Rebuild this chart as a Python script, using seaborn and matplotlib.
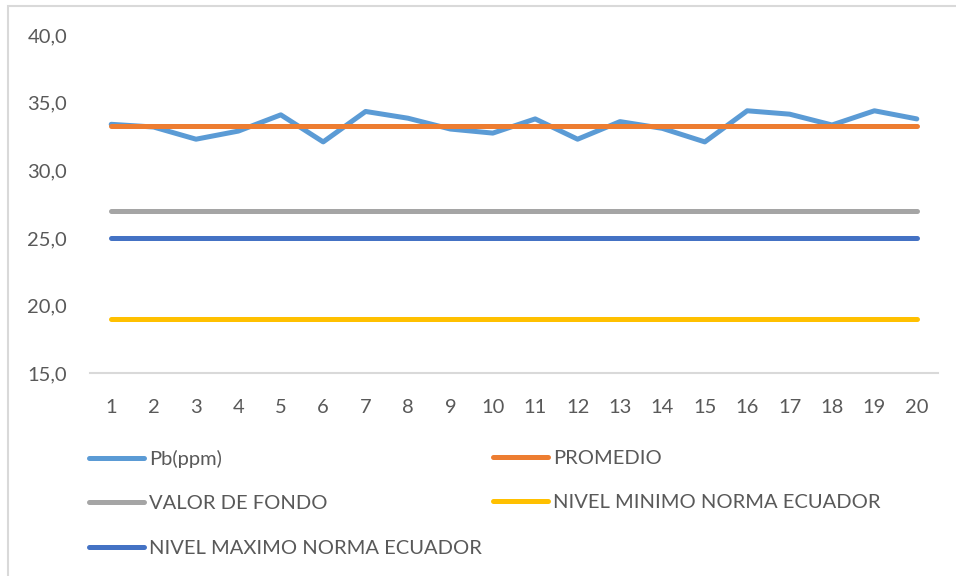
import numpy as np
import pandas as pd
import matplotlib
matplotlib.use("Agg")
import matplotlib.pyplot as plt
from matplotlib.patches import Rectangle
from matplotlib.lines import Line2D
from matplotlib.ticker import FuncFormatter
import seaborn as sns

# ---- data ----
muestras = list(range(1, 21))
pb_ppm = [33.4, 33.2, 32.3, 32.9, 34.1, 32.1, 34.35, 33.85, 33.05, 32.75,
          33.8, 32.3, 33.6, 33.1, 32.1, 34.4, 34.15, 33.35, 34.4, 33.8]
promedio = [33.3] * 20
valor_fondo = [27.0] * 20
nivel_minimo = [19.0] * 20
nivel_maximo = [25.0] * 20

series_names = ["Pb(ppm)", "PROMEDIO", "VALOR DE FONDO",
                "NIVEL MINIMO NORMA ECUADOR", "NIVEL MAXIMO NORMA ECUADOR"]
series_values = [pb_ppm, promedio, valor_fondo, nivel_minimo, nivel_maximo]
colors = ["#5B9BD5", "#ED7D31", "#A5A5A5", "#FFC000", "#4472C4"]

df = pd.concat([pd.DataFrame({"x": muestras, "y": v, "serie": n})
                for n, v in zip(series_names, series_values)], ignore_index=True)

sns.set_theme(style="white")
plt.rcParams['font.family'] = ['Lato', 'DejaVu Sans']

W, H = 956, 576
fig = plt.figure(figsize=(W / 100, H / 100), dpi=100)
ax = fig.add_axes([90 / W, 1 - 373.3 / H, (938 - 90) / W, (373.3 - 35) / H])

sns.lineplot(data=df, x="x", y="y", hue="serie", hue_order=series_names,
             palette=dict(zip(series_names, colors)), linewidth=3.6,
             ax=ax, legend=False, solid_capstyle="round", sort=False)

ax.set_xlim(0.5, 20.5)
ax.set_ylim(15, 40)
ax.set_xticks(muestras)
ax.set_yticks([15, 20, 25, 30, 35, 40])
ax.yaxis.set_major_formatter(FuncFormatter(lambda v, p: f"{v:.1f}".replace(".", ",")))
ax.set_xlabel("")
ax.set_ylabel("")
for s in ["top", "right", "left"]:
    ax.spines[s].set_visible(False)
ax.spines["bottom"].set_color("#D9D9D9")
ax.spines["bottom"].set_linewidth(1.5)
ax.tick_params(axis="both", length=0, labelsize=14.5, labelcolor="#595959")
ax.tick_params(axis="x", pad=18.5)
ax.tick_params(axis="y", pad=16.5)
ax.grid(False)

# border (only top and left edges visible in the crop)
fig.patches.append(Rectangle((8 / W, -0.5), 2.0, 1.5 - 6 / H, transform=fig.transFigure,
                             fill=False, edgecolor="#D9D9D9", linewidth=1.5))

# legend (two columns placed manually)
handles = [Line2D([], [], color=c, linewidth=3.6, solid_capstyle="round") for c in colors]
leg_kw = dict(frameon=False, fontsize=14.5, handlelength=2.75, handletextpad=0.25,
              labelspacing=1.35, borderaxespad=0, borderpad=0, labelcolor="#595959")
col1 = [0, 2, 4]
col2 = [1, 3]
fig.legend([handles[i] for i in col1], [series_names[i] for i in col1],
           loc="upper left", bbox_to_anchor=(89 / W, 1 - 450 / H), **leg_kw)
fig.legend([handles[i] for i in col2], [series_names[i] for i in col2],
           loc="upper left", bbox_to_anchor=(493 / W, 1 - 450 / H), **leg_kw)

fig.savefig("out.png", dpi=100)
